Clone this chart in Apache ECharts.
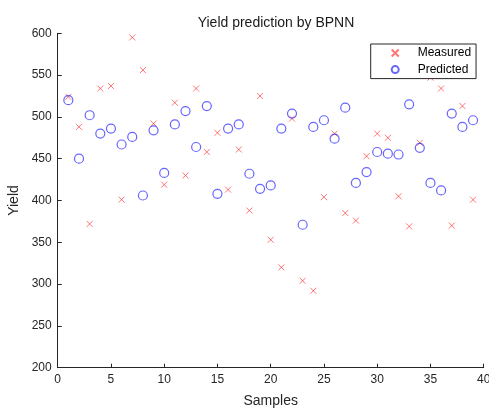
<!DOCTYPE html>
<html>
<head>
<meta charset="utf-8">
<script src="https://cdn.jsdelivr.net/npm/echarts@6/dist/echarts.min.js"></script>
<style>
  html, body { margin: 0; padding: 0; background: #fff; }
  #chart { width: 489px; height: 408px; }
</style>
</head>
<body>
<div id="chart"></div>
<script>
// Sample indices 1..39
const samples = [1,2,3,4,5,6,7,8,9,10,11,12,13,14,15,16,17,18,19,20,
  21,22,23,24,25,26,27,28,29,30,31,32,33,34,35,36,37,38,39];

// Measured yield per sample
const measured = [524,488,372,534,537,401,595,556,492,419,517,430,534,458,481,413,461,388,525,353,
  320,498,304,292,404,480,385,376,453,480,475,405,369,469,547,534,370,513,401];

// BPNN predicted yield per sample
const predicted = [520,450,502,480,486,467,476,406,484,433,491,507,464,513,408,486,491,432,414,418,
  486,504,371,488,496,474,511,421,434,458,456,455,515,463,421,412,504,488,496];

const xTicks = { min: 0, max: 40, interval: 5 };
const yTicks = { min: 200, max: 600, interval: 50 };

const axisColor = '#262626';
const font = 'Liberation Sans, Arial, Helvetica, sans-serif';

const toPairs = (ys) => samples.map((s, i) => [s, ys[i]]);

const chart = echarts.init(document.getElementById('chart'), null, { renderer: 'canvas' });

chart.setOption({
  animation: false,
  backgroundColor: '#fff',
  title: {
    text: 'Yield prediction by BPNN',
    left: 271,
    textAlign: 'center',
    top: 11,
    textStyle: { fontFamily: font, fontSize: 14, fontWeight: 'normal', color: '#1a1a1a' }
  },
  grid: { left: 57.7, right: 5.3, top: 33.3, bottom: 40.3, containLabel: false, outerBoundsMode: 'none' },
  legend: {
    orient: 'vertical',
    left: 370.7,
    top: 44,
    padding: [2, 5, 2, 20],
    itemWidth: 7,
    itemHeight: 7,
    itemGap: 2.6,
    backgroundColor: '#fff',
    borderColor: '#262626',
    borderWidth: 1,
    borderRadius: 0,
    textStyle: { fontFamily: font, fontSize: 12, lineHeight: 14, color: '#000', padding: [0, 0, 0, 14] },
    data: ['Measured', 'Predicted']
  },
  xAxis: {
    type: 'value',
    min: xTicks.min, max: xTicks.max, interval: xTicks.interval,
    name: 'Samples',
    nameLocation: 'middle',
    nameGap: 26,
    nameTextStyle: { fontFamily: font, fontSize: 14, color: axisColor },
    axisLine: { show: true, onZero: false, lineStyle: { color: axisColor, width: 1 } },
    axisTick: { show: true, inside: true, length: 4, lineStyle: { color: axisColor } },
    axisLabel: { fontFamily: font, fontSize: 12, color: axisColor, margin: 6 },
    splitLine: { show: false }
  },
  yAxis: {
    type: 'value',
    min: yTicks.min, max: yTicks.max, interval: yTicks.interval,
    name: 'Yield',
    nameLocation: 'middle',
    nameGap: 30,
    nameTextStyle: { fontFamily: font, fontSize: 14, color: axisColor },
    axisLine: { show: true, onZero: false, lineStyle: { color: axisColor, width: 1 } },
    axisTick: { show: true, inside: true, length: 4, lineStyle: { color: axisColor } },
    axisLabel: { fontFamily: font, fontSize: 12, color: axisColor, margin: 6 },
    splitLine: { show: false }
  },
  series: [
    {
      name: 'Measured',
      type: 'scatter',
      data: toPairs(measured),
      symbol: 'path://M0,0L10,10M10,0L0,10',
      symbolSize: 6,
      itemStyle: { color: 'rgba(0,0,0,0)', borderColor: 'rgba(255,40,40,0.8)', borderWidth: 1 },
      z: 2
    },
    {
      name: 'Predicted',
      type: 'scatter',
      data: toPairs(predicted),
      symbol: 'circle',
      symbolSize: 9,
      itemStyle: { color: 'rgba(0,0,0,0)', borderColor: 'rgba(30,30,255,0.85)', borderWidth: 1.2 },
      z: 3
    }
  ]
});
</script>
</body>
</html>
